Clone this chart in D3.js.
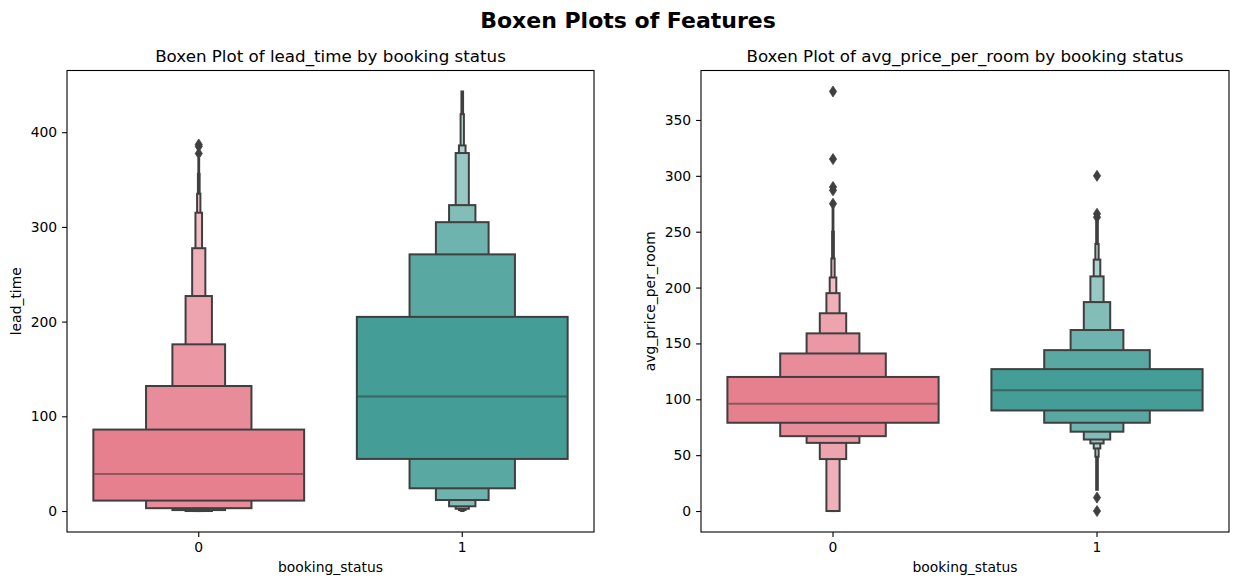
<!DOCTYPE html>
<html>
<head>
<meta charset="utf-8">
<title>Boxen Plots of Features</title>
<script src="https://cdnjs.cloudflare.com/ajax/libs/d3/7.8.5/d3.min.js"></script>
<style>
body { margin: 0; background: white; }
text { font-family: "DejaVu Sans", sans-serif; fill: black; }
</style>
</head>
<body>
<svg id="chart" width="1238" height="585"></svg>
<script>
// categories on the x axis
var categories = ["0", "1"];

// letter-value boxes [low, high], innermost first
var leadTimeBoxes0 = [[11, 86], [3, 132], [1, 176], [0, 227], [0, 277.5], [0, 315], [0, 335], [0, 356], [0, 372]];
var leadTimeBoxes1 = [[55, 205], [24, 271], [11.6, 305], [5, 323], [2.4, 378], [1, 386], [0.5, 419], [0, 443]];
var leadTimeMedians = [39, 121];
var leadTimeOutliers0 = [377.5, 385, 387];
var leadTimeOutliers1 = [];
var leadTimeTicks = [0, 100, 200, 300, 400];

var priceBoxes0 = [[79, 120], [67, 141], [61, 159], [46.5, 177], [0, 195], [0, 209], [0, 226], [0, 250], [0, 271]];
var priceBoxes1 = [[90, 127], [79, 144], [71, 162], [64, 187], [60.5, 210], [56, 225], [48.6, 239], [19, 260]];
var priceMedians = [96, 108];
var priceOutliers0 = [275, 287, 290, 315, 375.5];
var priceOutliers1 = [0, 12, 263, 266, 300];
var priceTicks = [0, 50, 100, 150, 200, 250, 300, 350];

var baseColors = ["#e6808f", "#449d96"];
var lightColors = ["#fcf2f4", "#eff6f4"];
var edge = "#3f3f3f";

var svg = d3.select("#chart");

svg.append("text")
    .attr("x", 628).attr("y", 28)
    .attr("text-anchor", "middle")
    .style("font-size", "22px").style("font-weight", "bold")
    .text("Boxen Plots of Features");

function drawPanel(opts) {
    var g = svg.append("g");
    var left = opts.left, right = opts.left + opts.width, top = 70.5, bottom = 532;

    var allVals = [];
    opts.boxes.forEach(function(bs) { bs.forEach(function(b) { allVals.push(b[0], b[1]); }); });
    opts.outliers.forEach(function(os) { os.forEach(function(v) { allVals.push(v); }); });
    var lo = d3.min(allVals), hi = d3.max(allVals), pad = (hi - lo) * 0.05;

    var x = d3.scaleBand().domain(categories).range([left, right]).padding(0);
    var y = d3.scaleLinear().domain([lo - pad, hi + pad]).range([bottom, top]);

    categories.forEach(function(c, i) {
        var boxes = opts.boxes[i];
        var n = boxes.length;
        var cx = x(c) + x.bandwidth() / 2;
        var col = d3.interpolateRgb(baseColors[i], lightColors[i]);
        // narrow outer boxes first, wide inner ones on top
        for (var k = n - 1; k >= 0; k--) {
            var w = 0.8 * x.bandwidth() * Math.pow(0.5, k);
            g.append("rect")
                .attr("x", cx - w / 2)
                .attr("y", y(boxes[k][1]))
                .attr("width", w)
                .attr("height", y(boxes[k][0]) - y(boxes[k][1]))
                .attr("fill", col(0.85 * k / (n - 1)))
                .attr("stroke", edge)
                .attr("stroke-width", 2);
        }
        var w0 = 0.8 * x.bandwidth();
        g.append("line")
            .attr("x1", cx - w0 / 2 + 1).attr("x2", cx + w0 / 2 - 1)
            .attr("y1", y(opts.medians[i])).attr("y2", y(opts.medians[i]))
            .attr("stroke", "#262626").attr("stroke-opacity", 0.45)
            .attr("stroke-width", 2);
        g.selectAll(null).data(opts.outliers[i]).enter().append("path")
            .attr("d", "M0,-5.5 L3.6,0 L0,5.5 L-3.6,0 Z")
            .attr("transform", function(d) { return "translate(" + cx + "," + y(d) + ")"; })
            .attr("fill", edge).attr("stroke", edge).attr("stroke-width", 0.8);
    });

    // frame
    g.append("rect")
        .attr("x", left).attr("y", top)
        .attr("width", right - left).attr("height", bottom - top)
        .attr("fill", "none").attr("stroke", "black").attr("stroke-width", 1.1);

    var yAxis = g.append("g").attr("transform", "translate(" + left + ",0)")
        .call(d3.axisLeft(y).tickValues(opts.ticks).tickSize(4.9).tickPadding(4.9));
    var xAxis = g.append("g").attr("transform", "translate(0," + bottom + ")")
        .call(d3.axisBottom(x).tickSize(4.9).tickPadding(4.9));
    [yAxis, xAxis].forEach(function(a) {
        a.select(".domain").remove();
        a.selectAll(".tick line").attr("stroke", "black").attr("stroke-width", 1.1);
        a.selectAll(".tick text").style("font-size", "13.9px").style("font-family", "DejaVu Sans").attr("fill", "black");
    });

    g.append("text")
        .attr("x", (left + right) / 2).attr("y", 62)
        .attr("text-anchor", "middle")
        .style("font-size", "16.7px")
        .text(opts.title);

    g.append("text")
        .attr("x", (left + right) / 2).attr("y", 572)
        .attr("text-anchor", "middle")
        .style("font-size", "13.9px")
        .text("booking_status");

    g.append("text")
        .attr("transform", "translate(" + opts.ylabelX + "," + ((top + bottom) / 2) + ") rotate(-90)")
        .attr("text-anchor", "middle")
        .style("font-size", "13.9px")
        .text(opts.ylabel);
}

drawPanel({
    left: 67, width: 527,
    boxes: [leadTimeBoxes0, leadTimeBoxes1],
    medians: leadTimeMedians,
    outliers: [leadTimeOutliers0, leadTimeOutliers1],
    ticks: leadTimeTicks,
    title: "Boxen Plot of lead_time by booking status",
    ylabel: "lead_time",
    ylabelX: 21
});

drawPanel({
    left: 701, width: 528,
    boxes: [priceBoxes0, priceBoxes1],
    medians: priceMedians,
    outliers: [priceOutliers0, priceOutliers1],
    ticks: priceTicks,
    title: "Boxen Plot of avg_price_per_room by booking status",
    ylabel: "avg_price_per_room",
    ylabelX: 655
});
</script>
</body>
</html>
